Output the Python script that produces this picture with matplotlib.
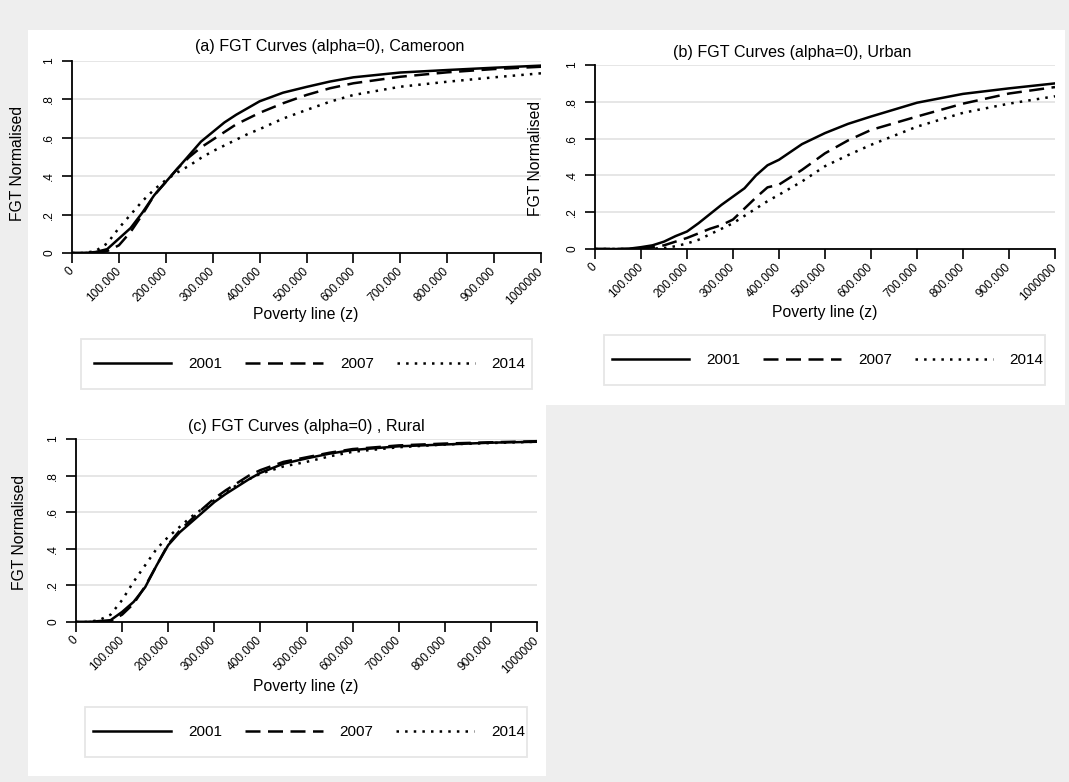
import matplotlib
matplotlib.use("Agg")
import matplotlib.pyplot as plt
from matplotlib.patches import Rectangle
import numpy as np

plt.rcParams['font.family'] = ['Liberation Sans', 'DejaVu Sans']

# ---------------- data ----------------
poverty_line = [0, 25000, 50000, 75000, 100000, 125000, 150000, 175000, 200000, 225000,
                250000, 275000, 300000, 325000, 350000, 375000, 400000, 450000, 500000,
                550000, 600000, 700000, 800000, 900000, 1000000]
years = ["2001", "2007", "2014"]

cameroon_2001 = [0, 0, 0.005, 0.02, 0.075, 0.13, 0.21, 0.30, 0.37, 0.44, 0.51, 0.58, 0.63,
                 0.68, 0.72, 0.755, 0.79, 0.835, 0.865, 0.893, 0.915, 0.94, 0.953, 0.965, 0.976]
cameroon_2007 = [0, 0, 0, 0.01, 0.04, 0.11, 0.20, 0.30, 0.37, 0.44, 0.50, 0.55, 0.59,
                 0.63, 0.67, 0.70, 0.73, 0.78, 0.823, 0.858, 0.884, 0.918, 0.941, 0.958, 0.97]
cameroon_2014 = [0, 0, 0.01, 0.05, 0.13, 0.20, 0.27, 0.33, 0.38, 0.42, 0.455, 0.495, 0.53,
                 0.56, 0.59, 0.62, 0.645, 0.70, 0.745, 0.788, 0.823, 0.866, 0.892, 0.915, 0.936]

urban_2001 = [0, 0, 0, 0.002, 0.01, 0.02, 0.04, 0.07, 0.095, 0.14, 0.19, 0.24, 0.285,
              0.33, 0.40, 0.455, 0.485, 0.57, 0.63, 0.68, 0.72, 0.795, 0.843, 0.873, 0.90]
urban_2007 = [0, 0, 0, 0, 0.003, 0.01, 0.02, 0.04, 0.06, 0.085, 0.11, 0.13, 0.16,
              0.22, 0.28, 0.335, 0.35, 0.43, 0.52, 0.59, 0.647, 0.72, 0.79, 0.845, 0.88]
urban_2014 = [0, 0, 0, 0, 0, 0.002, 0.005, 0.015, 0.03, 0.05, 0.08, 0.11, 0.14,
              0.18, 0.22, 0.26, 0.295, 0.367, 0.45, 0.51, 0.566, 0.665, 0.74, 0.79, 0.83]

rural_2001 = [0, 0, 0.005, 0.01, 0.055, 0.11, 0.19, 0.31, 0.42, 0.49, 0.545, 0.60, 0.655,
              0.70, 0.74, 0.78, 0.815, 0.865, 0.894, 0.92, 0.94, 0.96, 0.97, 0.98, 0.985]
rural_2007 = [0, 0, 0, 0.005, 0.04, 0.10, 0.195, 0.31, 0.425, 0.50, 0.56, 0.62, 0.675,
              0.72, 0.76, 0.80, 0.83, 0.875, 0.90, 0.925, 0.945, 0.965, 0.975, 0.982, 0.988]
rural_2014 = [0, 0, 0.01, 0.04, 0.12, 0.22, 0.31, 0.40, 0.465, 0.52, 0.575, 0.62, 0.665,
              0.71, 0.75, 0.78, 0.81, 0.85, 0.875, 0.905, 0.93, 0.955, 0.97, 0.978, 0.985]

x_ticks = [0, 100000, 200000, 300000, 400000, 500000, 600000, 700000, 800000, 900000, 1000000]
x_tick_labels = ["0", "100.000", "200.000", "300.000", "400.000", "500.000", "600.000",
                 "700.000", "800.000", "900.000", "1000000"]
y_ticks = [0, 0.2, 0.4, 0.6, 0.8, 1.0]
y_tick_labels = ["0", ".2", ".4", ".6", ".8", "1"]

titles = ["(a) FGT Curves (alpha=0), Cameroon",
          "(b) FGT Curves (alpha=0), Urban",
          "(c) FGT Curves (alpha=0) , Rural"]

# ---------------- layout ----------------
W, H = 1069, 782
BG = "#eeeeee"
GRID = "#e6e6e6"
fig = plt.figure(figsize=(W / 100, H / 100), dpi=100, facecolor=BG)

def fx(x):
    return x / W

def fy(y):
    return 1 - y / H

def add_rect(l, t, r, b, face, edge="none", lw=0, z=-2):
    fig.patches.append(Rectangle((fx(l), fy(b)), (r - l) / W, (b - t) / H,
                                 transform=fig.transFigure, facecolor=face,
                                 edgecolor=edge, linewidth=lw, zorder=z))

# white panels
add_rect(28, 30, 1065, 405, "white")
add_rect(28, 403, 546, 776, "white")

LW = 1.8
styles = [dict(linestyle="-"),
          dict(linestyle=(0, (6.0, 3.0))),
          dict(linestyle=(0, (1.0, 2.45)), dash_capstyle="butt")]

panels = [
    dict(series=[cameroon_2001, cameroon_2007, cameroon_2014], ax=(72, 541, 61, 253),
         title=(330, 47), xlabel=(306, 315), ylabel=(18, 163),
         legbox=(81, 339, 532, 389)),
    dict(series=[urban_2001, urban_2007, urban_2014], ax=(595, 1055, 65, 249),
         title=(792, 52), xlabel=(825, 312), ylabel=(536, 158),
         legbox=(604, 335, 1045, 385)),
    dict(series=[rural_2001, rural_2007, rural_2014], ax=(76, 537, 439, 622),
         title=(306, 426), xlabel=(306, 686), ylabel=(20, 532),
         legbox=(85, 707, 527, 757)),
]

for p, title in zip(panels, titles):
    l, r, t, b = p["ax"]
    ax = fig.add_axes([fx(l), fy(b), (r - l) / W, (b - t) / H])
    ax.set_facecolor("none")
    handles = []
    for vals, st, yr in zip(p["series"], styles, years):
        ln, = ax.plot(poverty_line, vals, color="black", lw=LW, label=yr,
                      solid_joinstyle="round", **st)
        handles.append(ln)
    ax.set_xlim(0, 1000000)
    ax.set_ylim(0, 1)
    ax.set_xticks(x_ticks)
    ax.set_xticklabels(x_tick_labels, rotation=45, ha="right", va="center",
                       rotation_mode="anchor", fontsize=8.6)
    ax.set_yticks(y_ticks)
    ax.set_yticklabels(y_tick_labels, rotation=90, va="center", fontsize=8.6)
    ax.tick_params(axis="both", direction="out", length=7, width=1.2, color="black")
    ax.tick_params(axis="x", pad=5)
    ax.tick_params(axis="y", pad=5)
    for s in ["top", "right"]:
        ax.spines[s].set_visible(False)
    for s in ["left", "bottom"]:
        ax.spines[s].set_linewidth(1.3)
    ax.yaxis.grid(True, color=GRID, lw=1.4)
    ax.set_axisbelow(True)

    fig.text(fx(p["title"][0]), fy(p["title"][1]), title, ha="center", va="center", fontsize=11.6)
    fig.text(fx(p["xlabel"][0]), fy(p["xlabel"][1]), "Poverty line (z)", ha="center",
             va="center", fontsize=11.3)
    fig.text(fx(p["ylabel"][0]), fy(p["ylabel"][1]), "FGT Normalised", ha="center",
             va="center", rotation=90, fontsize=11.3)

    bl, bt, br, bb = p["legbox"]
    add_rect(bl, bt, br, bb, "white", edge="#e6e6e6", lw=1.3, z=-1)
    fig.legend(handles, years, ncol=3, loc="center",
               bbox_to_anchor=(fx((bl + br) / 2 + 3), fy((bt + bb) / 2)),
               frameon=False, fontsize=11, handlelength=5.1, handletextpad=1.1,
               columnspacing=1.5)

fig.savefig("out.png", dpi=100, facecolor=BG)
